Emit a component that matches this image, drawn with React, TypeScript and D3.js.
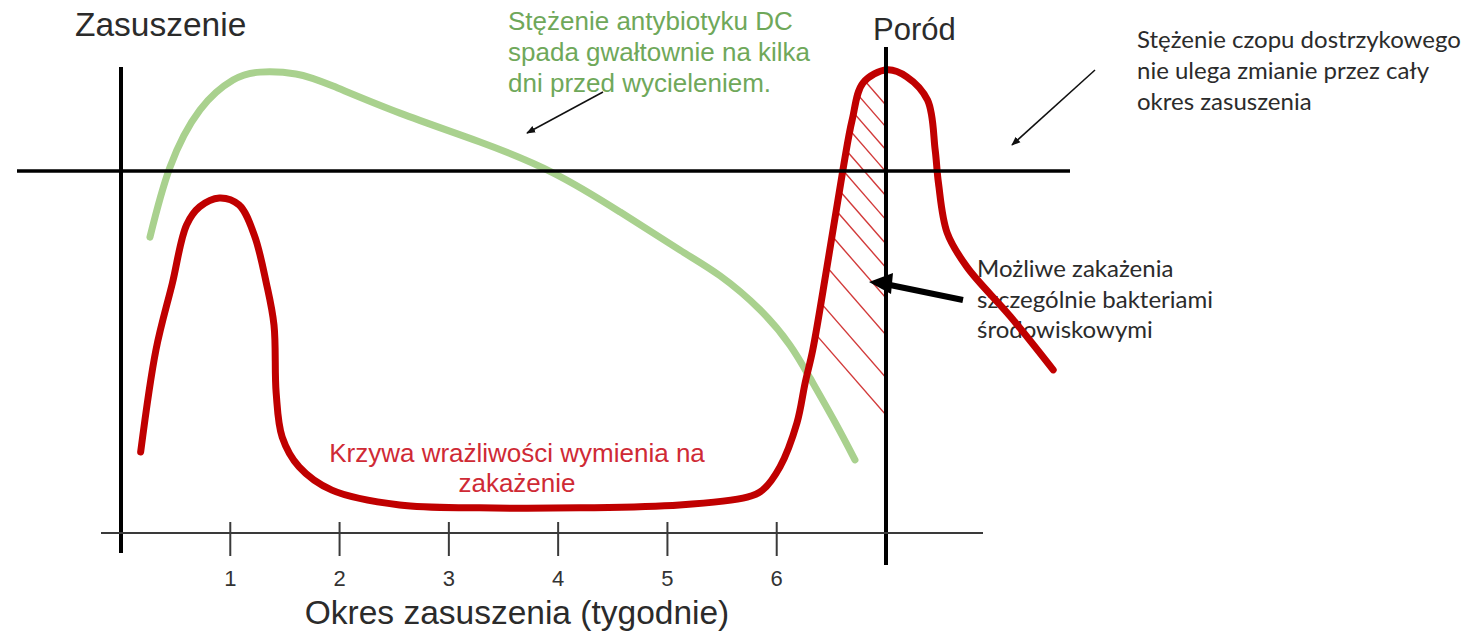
import React from 'react';
import * as d3 from 'd3';

// ---- data ----
const tickWeeks = [1, 2, 3, 4, 5, 6];
const calvingWeek = 7;
const sealantLevel = 77.7;

const sensWeeks = [0.18, 0.32, 0.47, 0.6, 0.72, 0.9, 1.08, 1.22, 1.33, 1.4, 1.42, 1.475, 1.63, 1.93, 2.55, 3.28, 4.2, 5.11, 5.73, 5.87, 6.03, 6.185, 6.26, 6.33, 6.46, 6.61, 6.69, 6.79, 7.01, 7.19, 7.38, 7.45, 7.48, 7.56, 7.74, 8.14, 8.53];
const sensValues = [17.4, 39.3, 53.6, 66.1, 70.0, 71.9, 70.4, 63.9, 53.6, 44.6, 30.0, 20.6, 14.2, 9.2, 6.0, 5.4, 5.4, 6.0, 7.7, 9.2, 14.2, 23.6, 32.2, 39.3, 57.1, 78.5, 88.6, 96.6, 99.4, 97.9, 92.9, 82.2, 75.1, 64.4, 57.1, 46.4, 35.0];

const antiWeeks = [0.265, 0.448, 0.723, 1.025, 1.272, 1.6, 1.94, 2.553, 3.285, 3.953, 4.566, 5.115, 5.481, 5.847, 6.121, 6.304, 6.533, 6.716];
const antiValues = [63.5, 78.5, 90.8, 97.2, 98.9, 98.5, 95.9, 90.1, 83.9, 77.3, 68.9, 60.7, 55.2, 47.9, 40.3, 33.3, 23.8, 15.7];

// hatch lines: value where each hatch line meets the calving line
const hatchValues = [91.8, 87.1, 82.2, 77.5, 72.3, 67.2, 62.0, 56.9, 50.4, 42.5, 33.3, 25.3];
const hatchFrom = 6.33; // start week of hatched risk zone (along the curve)
const hatchBottom = 24.9;

const antiText = ['Stężenie antybiotyku DC', 'spada gwałtownie na kilka', 'dni przed wycieleniem.'];
const sealText = ['Stężenie czopu dostrzykowego', 'nie ulega zmianie przez cały', 'okres zasuszenia'];
const riskText = ['Możliwe zakażenia', 'szczególnie bakteriami', 'środowiskowymi'];
const sensText = ['Krzywa wrażliwości wymienia na', 'zakażenie'];

const W = 1481;
const H = 635;

export default function App() {
  const x = d3.scaleLinear().domain([0, 7]).range([121, 886]);
  const y = d3.scaleLinear().domain([0, 100]).range([533, 67]);

  const sensPts: [number, number][] = sensWeeks.map((w, i) => [w, sensValues[i]]);
  const antiPts: [number, number][] = antiWeeks.map((w, i) => [w, antiValues[i]]);

  const line = d3
    .line<[number, number]>()
    .x((d) => x(d[0]))
    .y((d) => y(d[1]))
    .curve(d3.curveCatmullRom.alpha(0.5));

  const smoothLine = d3
    .line<[number, number]>()
    .x((d) => x(d[0]))
    .y((d) => y(d[1]))
    .curve(d3.curveNatural);

  const sensPath = line(sensPts) || '';
  const antiPath = smoothLine(antiPts) || '';

  // clip region for hatching: rising part of the curve up to the peak, then down the calving line
  const riseIdx = sensPts.findIndex((p) => p[0] >= hatchFrom);
  const peakIdx = sensValues.indexOf(Math.max(...sensValues));
  const risePts = sensPts.slice(riseIdx, peakIdx + 1);
  const clipD =
    (line(risePts) || '') +
    `L${x(calvingWeek)},${y(sensValues[peakIdx])}L${x(calvingWeek)},${y(hatchBottom)}Z`;

  const slope = 1.15;
  const xc = x(calvingWeek);

  const arial = "'Liberation Sans', Arial, sans-serif";
  const calibri = "Lato, 'Open Sans', sans-serif";

  return (
    <svg width={W} height={H} style={{ position: 'absolute', left: 0, top: 0, background: '#fff' }}>
      <defs>
        <clipPath id="hatchClip">
          <path d={clipD} />
        </clipPath>
        <marker id="thinHead" viewBox="0 0 10 10" refX="9" refY="5" markerWidth="9" markerHeight="9" orient="auto" markerUnits="userSpaceOnUse">
          <path d="M0,1 L10,5 L0,9 Z" fill="#111" />
        </marker>
      </defs>

      {/* hatching */}
      <g clipPath="url(#hatchClip)">
        {hatchValues.map((v, i) => (
          <line key={i} x1={xc - 140} y1={y(v) - 140 * slope} x2={xc} y2={y(v)} stroke="#d23a3a" strokeWidth={1.4} />
        ))}
      </g>

      {/* texts under curves */}
      <text fontFamily={calibri} fontSize={24} fill="#2b2b2b">
        {riskText.map((t, i) => (
          <tspan key={i} x={977} y={277 + i * 30.5}>{t}</tspan>
        ))}
      </text>

      {/* green curve */}
      <path d={antiPath} fill="none" stroke="#a9d18e" strokeWidth={7} strokeLinecap="round" />

      {/* red curve */}
      <path d={sensPath} fill="none" stroke="#c00000" strokeWidth={7} strokeLinecap="round" strokeLinejoin="round" />

      {/* sealant constant line */}
      <line x1={17} x2={1070} y1={y(sealantLevel)} y2={y(sealantLevel)} stroke="#000" strokeWidth={3.5} />

      {/* left vertical axis */}
      <line x1={x(0)} x2={x(0)} y1={67} y2={553} stroke="#000" strokeWidth={4} />
      {/* calving line */}
      <line x1={xc} x2={xc} y1={47} y2={565} stroke="#000" strokeWidth={4} />

      {/* x axis */}
      <line x1={101} x2={983} y1={y(0)} y2={y(0)} stroke="#3a3a3a" strokeWidth={2} />
      {tickWeeks.map((w) => (
        <g key={w}>
          <line x1={x(w)} x2={x(w)} y1={y(0) - 11} y2={y(0) + 23} stroke="#3a3a3a" strokeWidth={2} />
          <text x={x(w)} y={586} textAnchor="middle" fontFamily={arial} fontSize={22} fill="#333">
            {w}
          </text>
        </g>
      ))}
      <text x={517} y={624} textAnchor="middle" fontFamily={arial} fontSize={33.5} fill="#2b2b2b">
        Okres zasuszenia (tygodnie)
      </text>

      {/* titles */}
      <text x={75} y={36} fontFamily={arial} fontSize={33.5} fill="#2b2b2b">Zasuszenie</text>
      <text x={873} y={40} fontFamily={arial} fontSize={31} fill="#2b2b2b">Poród</text>

      {/* green annotation */}
      <text fontFamily={arial} fontSize={26} fill="#6fa85a">
        {antiText.map((t, i) => (
          <tspan key={i} x={508} y={30 + i * 31}>{t}</tspan>
        ))}
      </text>
      <line x1={603} y1={92} x2={527} y2={133} stroke="#111" strokeWidth={1.5} markerEnd="url(#thinHead)" />

      {/* sealant annotation */}
      <text fontFamily={calibri} fontSize={24} fill="#2b2b2b">
        {sealText.map((t, i) => (
          <tspan key={i} x={1137} y={48 + i * 31}>{t}</tspan>
        ))}
      </text>
      <line x1={1095} y1={70} x2={1012} y2={145} stroke="#111" strokeWidth={1.5} markerEnd="url(#thinHead)" />

      {/* thick arrow to hatched area */}
      <line x1={963} y1={300} x2={890} y2={285} stroke="#000" strokeWidth={6} />
      <path d="M869,282 L893,273 L891,294 Z" fill="#000" />

      {/* red label */}
      <text textAnchor="middle" fontFamily={arial} fontSize={26} fill="#cf2a35">
        {sensText.map((t, i) => (
          <tspan key={i} x={517} y={462 + i * 30}>{t}</tspan>
        ))}
      </text>
    </svg>
  );
}
